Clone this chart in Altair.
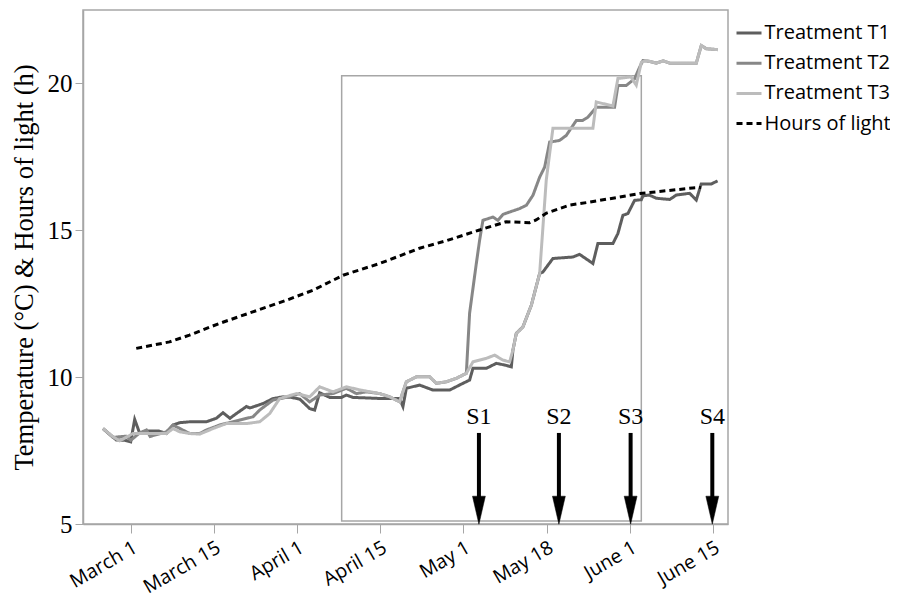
import altair as alt
import pandas as pd

# ---- data (x = day index, 15 units between tick marks) ----
tick_days = [0, 15, 30, 45, 60, 75, 90, 105]
tick_labels = ["March 1", "March 15", "April 1", "April 15", "May 1", "May 18", "June 1", "June 15"]

t1_day = [-5.0, -2.6, -1.0, 0.0, 0.72, 1.62, 2.83, 5.0, 6.44, 7.63, 8.83, 10.64, 13.65, 15.45, 16.64, 17.9,
          19.06, 20.86, 21.5, 23.85, 25.65, 27.46, 29.0, 30.5, 32.27, 33.17, 34.07, 35.88, 38.0, 38.89, 40.08,
          45.48, 48.49, 49.09, 49.7, 52.1, 54.5, 57.51, 59.91, 61.11, 61.71, 64.13, 65.93, 67.73, 68.63,
          68.92, 69.53, 70.72, 72.24, 73.74, 74.33, 76.13, 79.73, 80.94, 83.34, 84.24, 86.95, 87.85, 88.75,
          89.65, 90.86, 92.07, 92.36, 93.5, 94.77, 97.2, 98.38, 100.78, 101.98, 102.88, 104.7, 105.82]
t1_temp = [8.25, 7.86, 7.85, 7.8, 8.56, 8.09, 8.17, 8.17, 8.08, 8.37, 8.45, 8.48, 8.48, 8.6, 8.79, 8.6,
           8.76, 9.0, 8.95, 9.1, 9.27, 9.33, 9.31, 9.25, 8.93, 8.88, 9.47, 9.31, 9.31, 9.39, 9.31,
           9.27, 9.27, 9.0, 9.62, 9.73, 9.56, 9.56, 9.79, 9.9, 10.3, 10.3, 10.47, 10.4, 10.35,
           10.92, 11.49, 11.71, 12.45, 13.53, 13.58, 14.04, 14.09, 14.18, 13.87, 14.55, 14.55, 14.89, 15.51,
           15.57, 16.02, 16.04, 16.17, 16.2, 16.09, 16.05, 16.2, 16.26, 16.03, 16.58, 16.58, 16.68]

t2_day = [-5.0, -3.2, -0.78, 0.0, 1.62, 2.83, 3.5, 6.44, 7.63, 10.64, 12.44, 13.65, 16.04, 19.65, 22.05,
          23.26, 25.65, 28.07, 30.47, 32.27, 34.07, 36.47, 38.89, 40.7, 42.49, 44.89, 46.69, 48.49, 49.7,
          51.5, 53.9, 55.11, 56.91, 58.72, 60.52, 61.11, 62.32, 62.92, 63.51, 65.32, 66.21, 67.12, 68.32,
          70.13, 71.34, 72.53, 73.74, 74.64, 75.54, 77.34, 78.54, 80.35, 81.5, 82.44, 83.95, 87.25, 87.85,
          89.36, 90.86, 91.76, 92.36, 93.5, 94.77, 96.0, 97.2, 101.98, 102.88, 103.8, 105.82]
t2_temp = [8.25, 7.95, 7.99, 7.85, 8.1, 8.2, 7.98, 8.14, 8.37, 8.08, 8.08, 8.2, 8.37, 8.54, 8.65,
           8.88, 9.22, 9.31, 9.44, 9.16, 9.39, 9.44, 9.62, 9.44, 9.5, 9.44, 9.33, 9.16, 9.84,
           10.01, 10.01, 9.79, 9.84, 9.96, 10.13, 12.18, 13.87, 14.67, 15.34, 15.45, 15.34, 15.54, 15.62,
           15.74, 15.85, 16.19, 16.81, 17.15, 18.0, 18.06, 18.23, 18.74, 18.74, 18.85, 19.19, 19.19, 19.93,
           19.93, 20.16, 20.55, 20.78, 20.75, 20.69, 20.77, 20.69, 20.69, 21.29, 21.18, 21.15]

t3_day = [-5.0, -3.2, -2.0, 0.41, 5.0, 6.44, 7.63, 8.83, 10.64, 12.44, 14.84, 17.25, 20.86, 23.26, 25.06,
          26.86, 29.87, 32.27, 34.07, 36.47, 38.89, 41.5, 44.89, 46.69, 48.49, 49.7, 51.5, 53.9, 55.11,
          56.91, 58.72, 60.52, 61.71, 64.13, 65.62, 67.12, 68.32, 68.92, 69.53, 70.72, 72.24, 73.74, 74.93,
          76.13, 83.34, 83.95, 86.95, 87.85, 90.2, 91.16, 92.07, 92.97, 94.77, 96.0, 97.2, 101.98, 102.88,
          103.8, 105.82]
t3_temp = [8.25, 7.97, 7.83, 8.08, 8.08, 8.08, 8.25, 8.14, 8.08, 8.06, 8.25, 8.42, 8.42, 8.48, 8.76,
           9.27, 9.44, 9.33, 9.67, 9.5, 9.67, 9.56, 9.44, 9.33, 9.16, 9.84, 10.01, 10.01, 9.79,
           9.84, 9.96, 10.13, 10.52, 10.64, 10.75, 10.58, 10.52, 10.92, 11.49, 11.71, 12.45, 13.53, 16.71,
           18.47, 18.47, 19.37, 19.23, 20.17, 20.22, 19.94, 20.72, 20.78, 20.69, 20.77, 20.69, 20.69, 21.29,
           21.18, 21.15]

light_day = [1.0, 7.0, 10.6, 16.0, 22.0, 28.1, 32.9, 38.3, 44.9, 52.1, 57.0, 62.9, 67.7, 71.9, 73.1,
             74.9, 79.2, 82.8, 91.8, 101.3, 102.8]
light_hours = [10.98, 11.2, 11.43, 11.83, 12.22, 12.62, 12.96, 13.47, 13.87, 14.39, 14.65, 15.01, 15.29,
               15.26, 15.35, 15.58, 15.86, 15.96, 16.25, 16.44, 16.46]

series_names = ["Treatment T1", "Treatment T2", "Treatment T3", "Hours of light"]
series_colors = ["#5e5e5e", "#878787", "#bcbcbc", "#000000"]
series_dashes = [[1, 0], [1, 0], [1, 0], [6, 4]]

stage_labels = ["S1", "S2", "S3", "S4"]
stage_days = [62.79, 77.21, 90.14, 104.87]

box_days = [38.04, 92.07]
box_values = [5.1, 20.26]

# ---- build tables ----
rows = []
for name, xs, ys in zip(series_names, [t1_day, t2_day, t3_day, light_day],
                        [t1_temp, t2_temp, t3_temp, light_hours]):
    for i, (x, y) in enumerate(zip(xs, ys)):
        rows.append({"series": name, "day": x, "value": y, "order": i})
lines_df = pd.DataFrame(rows)

stages_df = pd.DataFrame({"stage": stage_labels, "day": stage_days,
                          "top": [8.1] * 4, "bottom": [5.9] * 4,
                          "head": [5.47] * 4, "label_y": [8.66] * 4})
box_df = pd.DataFrame({"x": [box_days[0]], "x2": [box_days[1]],
                       "y": [box_values[0]], "y2": [box_values[1]]})

GRAY = "#a6a6a6"
xscale = alt.Scale(domain=[-8.6, 107.7], nice=False, zero=False)
yscale = alt.Scale(domain=[5, 22.5], nice=False, zero=False)

label_expr = "[" + ",".join("'" + l + "'" for l in tick_labels) + "][round(datum.value/15)]"

legend_kw = dict(title=None, orient="none", legendX=652, legendY=9,
                 symbolType="stroke", symbolSize=625, symbolStrokeWidth=3,
                 labelFont="Open Sans", labelFontSize=20, labelColor="#000",
                 rowPadding=6.2, labelOffset=1.5, labelLimit=300)

lines = alt.Chart(lines_df).mark_line(strokeWidth=3, strokeJoin="miter").encode(
    x=alt.X("day:Q", scale=xscale,
            axis=alt.Axis(values=tick_days, labelExpr=label_expr, title=None, grid=False,
                          labelAngle=-30, labelFont="Open Sans", labelFontSize=19.5,
                          labelColor="#000", tickColor=GRAY, domainColor=GRAY, tickSize=9,
                          labelPadding=5, labelFlush=False, labelOverlap=False)),
    y=alt.Y("value:Q", scale=yscale,
            axis=alt.Axis(values=[5, 10, 15, 20], title="Temperature (°C) & Hours of light (h)",
                          titleFont="Liberation Serif", titleFontSize=26.5, titleFontWeight="normal",
                          titleColor="#000", titleX=-59, titleBaseline="middle",
                          labelFont="Liberation Serif", labelFontSize=25,
                          labelColor="#000", grid=False, tickColor=GRAY, domainColor=GRAY,
                          tickSize=8, labelPadding=3, labelFlush=False)),
    color=alt.Color("series:N", scale=alt.Scale(domain=series_names, range=series_colors),
                    legend=alt.Legend(**legend_kw)),
    strokeDash=alt.StrokeDash("series:N", scale=alt.Scale(domain=series_names, range=series_dashes),
                              legend=alt.Legend(**legend_kw)),
    order="order:Q",
    detail="series:N",
)

box = alt.Chart(box_df).mark_rect(fillOpacity=0, stroke=GRAY, strokeWidth=1.5).encode(
    x=alt.X("x:Q", scale=xscale), x2="x2:Q",
    y=alt.Y("y:Q", scale=yscale), y2="y2:Q")

shafts = alt.Chart(stages_df).mark_rule(color="#000", strokeWidth=4).encode(
    x=alt.X("day:Q", scale=xscale), y=alt.Y("top:Q", scale=yscale), y2="bottom:Q")

heads = alt.Chart(stages_df).mark_point(
    shape="M -0.46 -1 L 0.46 -1 L 0 1 Z", filled=True, fill="#000", stroke="#000",
    strokeWidth=0.5, size=784, opacity=1).encode(
    x=alt.X("day:Q", scale=xscale), y=alt.Y("head:Q", scale=yscale))

labels = alt.Chart(stages_df).mark_text(font="Liberation Serif", fontSize=24, color="#000",
                                        baseline="middle", align="center").encode(
    x=alt.X("day:Q", scale=xscale), y=alt.Y("label_y:Q", scale=yscale), text="stage:N")

chart = alt.layer(box, lines, shafts, heads, labels).properties(
    width=645, height=514,
    autosize=alt.AutoSizeParams(type="none"),
    padding={"left": 75, "top": 2, "right": 162, "bottom": 74},
).configure_view(stroke=GRAY, strokeWidth=1.5).configure_axis(domainWidth=1.5)

chart.save("out.html", embed_options={"renderer": "svg", "actions": False})
